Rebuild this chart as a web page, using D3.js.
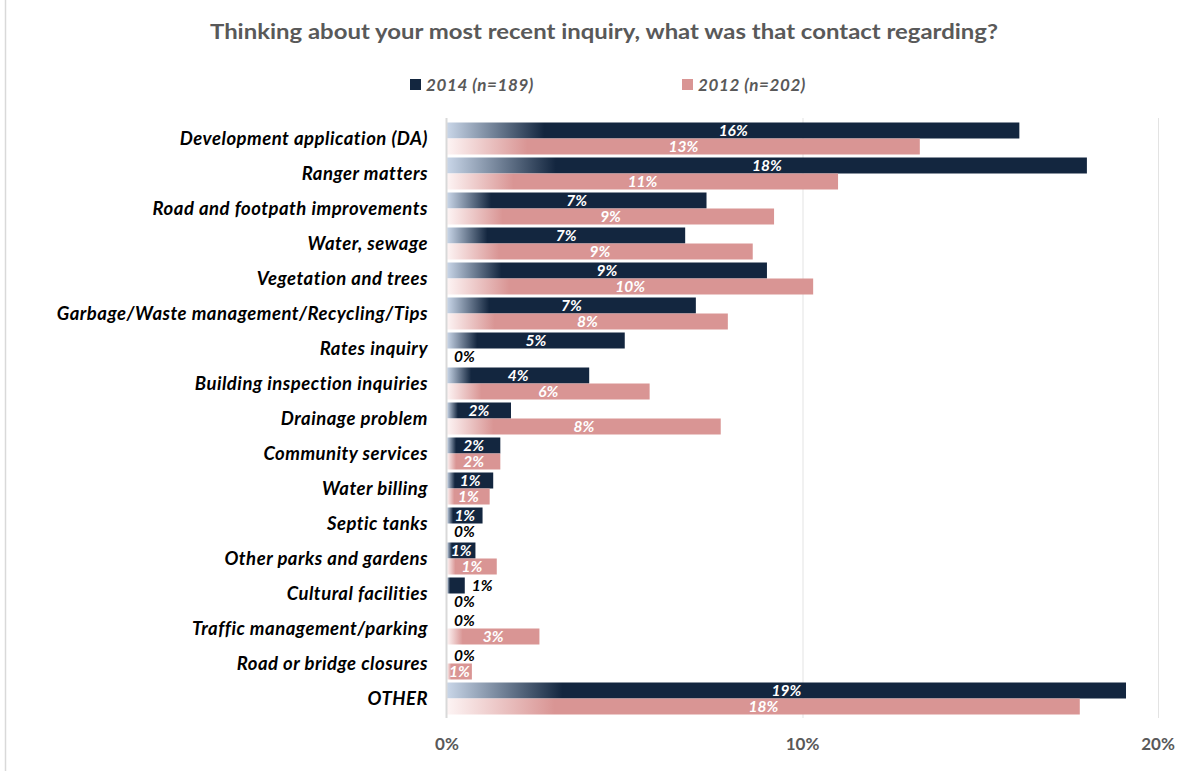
<!DOCTYPE html>
<html><head><meta charset="utf-8">
<script src="https://cdn.jsdelivr.net/npm/d3@7"></script>
<style>
html,body{margin:0;padding:0;background:#fff;}
svg{display:block;}
text{font-family:Lato,"Open Sans",sans-serif;}
</style></head>
<body>
<svg id="chart" width="1197" height="771"></svg>
<script>
const categories = [
  "Development application (DA)",
  "Ranger matters",
  "Road and footpath improvements",
  "Water, sewage",
  "Vegetation and trees",
  "Garbage/Waste management/Recycling/Tips",
  "Rates inquiry",
  "Building inspection inquiries",
  "Drainage problem",
  "Community services",
  "Water billing",
  "Septic tanks",
  "Other parks and gardens",
  "Cultural facilities",
  "Traffic management/parking",
  "Road or bridge closures",
  "OTHER"
];
const values2014 = [16.1, 18.0, 7.3, 6.7, 9.0, 7.0, 5.0, 4.0, 1.8, 1.5, 1.3, 1.0, 0.8, 0.5, 0, 0, 19.1];
const values2012 = [13.3, 11.0, 9.2, 8.6, 10.3, 7.9, 0, 5.7, 7.7, 1.5, 1.2, 0, 1.4, 0, 2.6, 0.7, 17.8];
const seriesNames = ["2014 (n=189)", "2012 (n=202)"];
const xTicks = [0, 10, 20];
const title = "Thinking about your most recent inquiry, what was that contact regarding?";

const svg = d3.select("#chart");
const W = 1197, H = 771;
const colors = ["#13263f", "#d99594"];
const lightColors = ["#c9d6e8", "#fdf4f4"];

// border
svg.append("line").attr("x1",5.5).attr("x2",5.5).attr("y1",0).attr("y2",H)
  .attr("stroke","#d9d9d9").attr("stroke-width",1.5);

const x = d3.scaleLinear().domain([0,20]).range([447,1158]);
const y = d3.scaleBand().domain(categories).range([121,716]).paddingInner(0.0857).paddingOuter(0.0428);
const sub = d3.scaleBand().domain([0,1]).range([0,y.bandwidth()]);

// gradients
const defs = svg.append("defs");
colors.forEach((c,i)=>{
  const g = defs.append("linearGradient").attr("id","grad"+i)
    .attr("x1","0").attr("x2","1").attr("y1","0").attr("y2","0");
  g.append("stop").attr("offset","0").attr("stop-color",lightColors[i]);
  g.append("stop").attr("offset","0.17").attr("stop-color",c);
  g.append("stop").attr("offset","1").attr("stop-color",c);
});

// gridlines
svg.append("g").selectAll("line").data(xTicks.slice(1)).join("line")
  .attr("x1",d=>x(d)+0.5).attr("x2",d=>x(d)+0.5).attr("y1",118).attr("y2",718)
  .attr("stroke","#e3e3e3").attr("stroke-width",1);

// title
svg.append("text").attr("x",604).attr("y",39).attr("text-anchor","middle")
  .attr("font-size",21).attr("font-weight","bold").attr("fill","#595959")
  .attr("textLength",788).attr("lengthAdjust","spacingAndGlyphs").text(title);

// legend
const legX = [410, 682];
seriesNames.forEach((s,i)=>{
  svg.append("rect").attr("x",legX[i]).attr("y",79).attr("width",11).attr("height",11).attr("fill",colors[i]);
  svg.append("text").attr("x",legX[i]+16).attr("y",91).attr("font-size",17)
    .attr("font-weight","bold").attr("font-style","italic").attr("fill","#595959")
    .attr("letter-spacing",0.6).text(s);
});

// bars
const series = [values2014, values2012];
const thr = 20;
const gBars = svg.append("g");
series.forEach((vals,si)=>{
  const data = categories.map((c,i)=>({c, v: vals[i]}));
  gBars.append("g").selectAll("rect").data(data).join("rect")
    .attr("x",x(0)).attr("y",d=>y(d.c)+sub(si))
    .attr("width",d=>x(d.v)-x(0)).attr("height",sub.bandwidth())
    .attr("fill",d=>"url(#grad"+si+")");
  gBars.append("g").selectAll("text").data(data).join("text")
    .attr("x",d=>{const w=x(d.v)-x(0); return w<thr ? x(d.v)+7 : x(0)+w/2;})
    .attr("text-anchor",d=>(x(d.v)-x(0))<thr ? "start":"middle")
    .attr("y",d=>y(d.c)+sub(si)+sub.bandwidth()/2+5.5)
    .attr("font-size",15.5).attr("font-weight","bold").attr("font-style","italic")
    .attr("fill",d=>(x(d.v)-x(0))<thr ? "#000" : "#fff")
    .text(d=>Math.round(d.v)+"%");
});

// left axis line
svg.append("line").attr("x1",x(0)-0.5).attr("x2",x(0)-0.5).attr("y1",118).attr("y2",718)
  .attr("stroke","#d9d9d9").attr("stroke-width",2);

// category labels
svg.append("g").selectAll("text").data(categories).join("text")
  .attr("x",428).attr("y",d=>y(d)+y.bandwidth()/2+6.5)
  .attr("text-anchor","end").attr("font-size",18.5).attr("font-weight","bold")
  .attr("font-style","italic").attr("fill","#000").attr("letter-spacing",0.5).text(d=>d);

// x tick labels
svg.append("g").selectAll("text").data(xTicks).join("text")
  .attr("x",d=>x(d)).attr("y",750).attr("text-anchor","middle")
  .attr("font-size",17).attr("font-weight","bold").attr("fill","#595959")
  .text(d=>d+"%");
</script>
</body></html>
